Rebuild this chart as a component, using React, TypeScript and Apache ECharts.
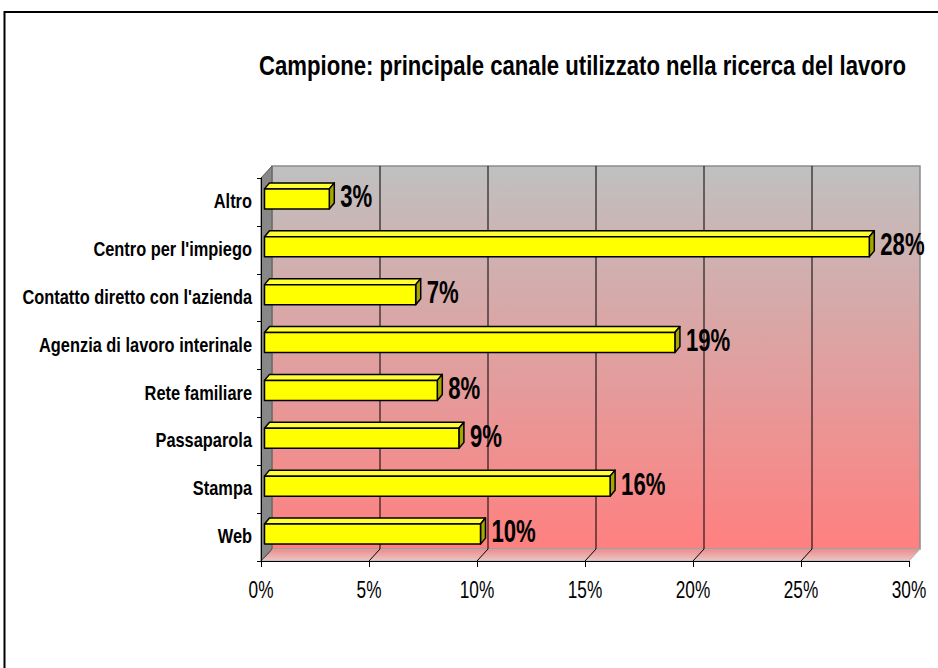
import React, { useEffect, useRef } from "react";
import * as echarts from "echarts";

const titleText = "Campione: principale canale utilizzato nella ricerca del lavoro";
const categories = [
  "Altro",
  "Centro per l'impiego",
  "Contatto diretto con l'azienda",
  "Agenzia di lavoro interinale",
  "Rete familiare",
  "Passaparola",
  "Stampa",
  "Web",
];
const values = [3, 28, 7, 19, 8, 9, 16, 10];
const xTickValues = [0, 5, 10, 15, 20, 25, 30];

const FONT = "'Liberation Sans', Arial, sans-serif";
const NARROW = 0.82;
const DX = 11;
const DY = -12;
const BFX = 3.5;
const BFY = -3;
const BDX = 5;
const BDY = -6;

export default function App() {
  const ref = useRef<HTMLDivElement>(null);
  useEffect(() => {
    if (!ref.current) return;
    const chart = echarts.init(ref.current, null, { renderer: "svg" });
    const option: any = {
      animation: false,
      backgroundColor: "#ffffff",
      grid: { left: 261, right: 29, top: 178, bottom: 107, containLabel: false, outerBoundsMode: "none" },
      graphic: [
        {
          type: "rect",
          shape: { x: 4.5, y: 12, width: 1000, height: 1000 },
          style: { fill: "none", stroke: "#000", lineWidth: 2 },
          z: 10,
        },
        {
          type: "text",
          x: 582.5,
          y: 65,
          scaleX: NARROW,
          scaleY: 1.05,
          style: {
            text: titleText,
            fill: "#000",
            fontFamily: FONT,
            fontSize: 27,
            fontWeight: "bold",
            align: "center",
            verticalAlign: "middle",
          },
          z: 10,
        },
      ],
      xAxis: {
        type: "value",
        min: 0,
        max: 30,
        interval: 5,
        z: 5,
        axisLine: { show: true, lineStyle: { color: "#000", width: 1 } },
        axisTick: { show: true, length: 6, lineStyle: { color: "#000" } },
        splitLine: { show: false },
        axisLabel: { show: false },
      },
      yAxis: {
        type: "category",
        data: categories,
        inverse: true,
        z: 5,
        axisLine: { show: true, lineStyle: { color: "#000", width: 1 } },
        axisTick: { show: true, length: 4, lineStyle: { color: "#000" } },
        axisLabel: { show: false },
      },
      series: [
        {
          type: "custom",
          z: 1,
          silent: true,
          data: [[0, 0]],
          clip: false,
          renderItem: (params: any, api: any) => {
            const cs = params.coordSys;
            const L = cs.x;
            const T = cs.y;
            const R = cs.x + cs.width;
            const B = cs.y + cs.height;
            const children: any[] = [];
            children.push({
              type: "rect",
              shape: { x: L + DX, y: T + DY, width: cs.width, height: cs.height },
              style: {
                fill: new echarts.graphic.LinearGradient(0, 0, 0, 1, [
                  { offset: 0, color: "#c0c0c0" },
                  { offset: 1, color: "#ff8080" },
                ]),
                stroke: "#8c8c8c",
                lineWidth: 1.5,
              },
            });
            children.push({
              type: "polygon",
              shape: { points: [[L, B], [L + DX, B + DY], [R + DX, B + DY], [R, B]] },
              style: {
                fill: new echarts.graphic.LinearGradient(0, 0, 0, 1, [
                  { offset: 0, color: "#f08a8a" },
                  { offset: 1, color: "#e8c8c8" },
                ]),
                stroke: "#b0b0b0",
                lineWidth: 1,
              },
            });
            xTickValues.forEach((t) => {
              const x = api.coord([t, 0])[0];
              if (t > 0 && t < 30) {
                children.push({
                  type: "line",
                  shape: { x1: x + DX, y1: T + DY, x2: x + DX, y2: B + DY },
                  style: { stroke: "#000", lineWidth: 1 },
                });
              }
              if (t < 30) {
                children.push({
                  type: "line",
                  shape: { x1: x + DX, y1: B + DY, x2: x, y2: B },
                  style: { stroke: "#000", lineWidth: 1 },
                });
              }
              children.push({
                type: "text",
                x,
                y: B + 29,
                scaleX: NARROW,
                scaleY: 1.1,
                style: {
                  text: `${t}%`,
                  fill: "#000",
                  fontFamily: FONT,
                  fontSize: 21,
                  align: "center",
                  verticalAlign: "middle",
                },
              });
            });
            categories.forEach((c, i) => {
              const p = api.coord([0, i]);
              children.push({
                type: "text",
                x: L - 9,
                y: p[1] - 1,
                scaleX: NARROW,
                style: {
                  text: c,
                  fill: "#000",
                  fontFamily: FONT,
                  fontSize: 20,
                  fontWeight: "bold",
                  align: "right",
                  verticalAlign: "middle",
                },
              });
            });
            children.push({
              type: "polygon",
              shape: { points: [[L, T], [L + DX, T + DY], [L + DX, B + DY], [L, B]] },
              style: { fill: "#888888", stroke: "#5a5a5a", lineWidth: 1 },
            });
            return { type: "group", children };
          },
        },
        {
          type: "custom",
          z: 2,
          data: values.map((v, i) => [v, i]),
          encode: { x: 0, y: 1 },
          clip: false,
          renderItem: (params: any, api: any) => {
            const v = api.value(0);
            const idx = api.value(1);
            const p0 = api.coord([0, idx]);
            const p1 = api.coord([v, idx]);
            const band = api.size([0, 1])[1];
            const h = band * 0.42;
            const x0 = p0[0] + BFX;
            const x1 = p1[0] + BFX;
            const yT = p0[1] + BFY - h / 2;
            const yB = yT + h;
            const stroke = { stroke: "#000", lineWidth: 1.5, lineJoin: "round" };
            return {
              type: "group",
              children: [
                {
                  type: "polygon",
                  shape: { points: [[x0, yT], [x0 + BDX, yT + BDY], [x1 + BDX, yT + BDY], [x1, yT]] },
                  style: { fill: "#ffff33", ...stroke },
                },
                {
                  type: "polygon",
                  shape: { points: [[x1, yT], [x1 + BDX, yT + BDY], [x1 + BDX, yB + BDY], [x1, yB]] },
                  style: { fill: "#a6a600", ...stroke },
                },
                {
                  type: "rect",
                  shape: { x: x0, y: yT, width: x1 - x0, height: h },
                  style: { fill: "#ffff00", ...stroke },
                },
                {
                  type: "text",
                  x: x1 + BDX + 6,
                  y: yT + h / 2 - 2,
                  scaleX: NARROW,
                  scaleY: 1.15,
                  style: {
                    text: `${v}%`,
                    fill: "#000",
                    fontFamily: FONT,
                    fontSize: 27,
                    fontWeight: "bold",
                    align: "left",
                    verticalAlign: "middle",
                  },
                },
              ],
            };
          },
        },
      ],
    };
    chart.setOption(option);
    return () => chart.dispose();
  }, []);
  return (
    <div
      ref={ref}
      style={{ position: "fixed", left: 0, top: 0, width: 938, height: 668 }}
    />
  );
}
